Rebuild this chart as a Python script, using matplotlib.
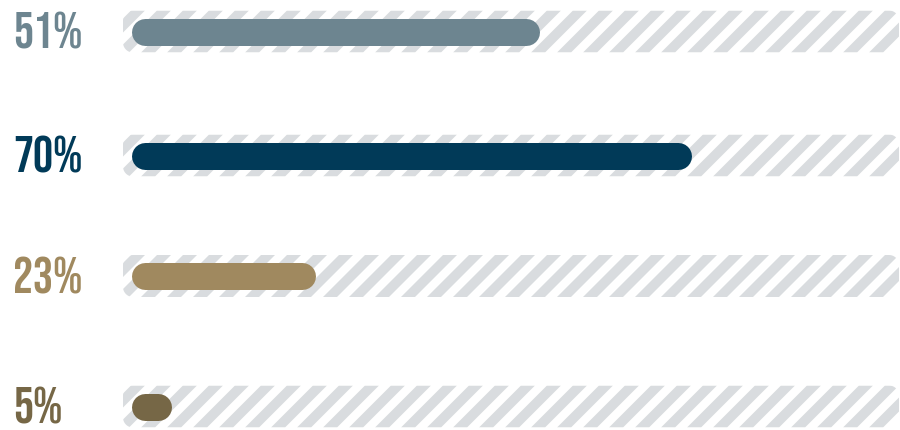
import matplotlib
matplotlib.use("Agg")
import matplotlib.pyplot as plt
from matplotlib.patches import Polygon, PathPatch
from matplotlib.path import Path
import numpy as np

# Data
labels = ["51%", "70%", "23%", "5%"]
values = [51, 70, 23, 5]
colors = ["#6d8590", "#013a58", "#a0895f", "#766746"]

# Layout (pixel space)
row_y = [31.5, 155.5, 276, 406.5]
track_x0, track_x1 = 123, 899
track_h = 42
track_r = 10
bar_x0 = 131
bar_h = 27
full_len = 800  # length of a bar at 100 %
stripe_color = "#d9dcdf"
stripe_period = 26
stripe_w = 14

DPI = 100
fig = plt.figure(figsize=(9, 4.3), dpi=DPI)
ax = fig.add_axes([0, 0, 1, 1])
ax.set_xlim(0, 900)
ax.set_ylim(430, 0)
ax.axis("off")


def rounded_rect(x0, y0, w, h, r, n=12):
    """Closed path of a rectangle with circular corners."""
    pts = []
    corners = [(x0 + w - r, y0 + r, -90, 0), (x0 + w - r, y0 + h - r, 0, 90),
               (x0 + r, y0 + h - r, 90, 180), (x0 + r, y0 + r, 180, 270)]
    for cx, cy, a0, a1 in corners:
        t = np.radians(np.linspace(a0, a1, n))
        pts.extend(zip(cx + r * np.cos(t), cy + r * np.sin(t)))
    pts.append(pts[0])
    return Path(pts, closed=True)


font = dict(family=["Bebas Neue", "Oswald", "DejaVu Sans"], fontsize=36)
bar_lw = bar_h * 72 / DPI  # bar thickness in points

for lab, val, col, yc in zip(labels, values, colors, row_y):
    # striped background track
    top, bot = yc - track_h / 2, yc + track_h / 2
    track = PathPatch(rounded_rect(track_x0, top, track_x1 - track_x0, track_h, track_r),
                      facecolor="white", edgecolor="none", zorder=1)
    ax.add_patch(track)
    for x in np.arange(track_x0 - 60, track_x1 + 60, stripe_period):
        poly = Polygon([(x, bot), (x + stripe_w, bot),
                        (x + stripe_w + track_h, top), (x + track_h, top)],
                       closed=True, facecolor=stripe_color, edgecolor="none", zorder=2)
        ax.add_patch(poly)
        poly.set_clip_path(track)

    # value bar: a thick line with round caps spanning the value's length
    length = full_len * val / 100
    ax.plot([bar_x0 + bar_h / 2, bar_x0 + length - bar_h / 2], [yc, yc],
            color=col, lw=bar_lw, solid_capstyle="round", zorder=3)

    ax.text(13, yc + 17, lab, color=col, ha="left", va="baseline", **font)

fig.savefig("out.png", dpi=DPI, facecolor="white")
